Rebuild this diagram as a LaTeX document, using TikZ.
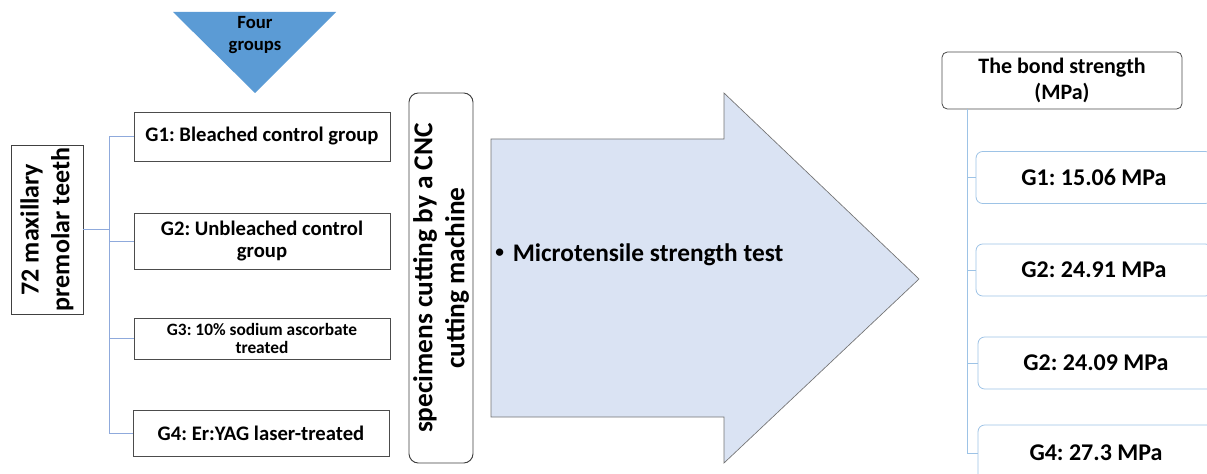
\documentclass[tikz,border=0pt]{standalone}
\usepackage{fontspec}
\setmainfont{Carlito}
\frenchspacing
\definecolor{trifill}{HTML}{5B9BD5}
\definecolor{arrowfill}{HTML}{DAE3F3}
\definecolor{linkblue}{HTML}{8FAADC}
\definecolor{boxblue}{HTML}{9DC3E6}
\begin{document}
\begin{tikzpicture}[x=0.75pt, y=-0.75pt,
  every node/.style={font=\bfseries, align=center, inner sep=0pt},
  grpbox/.style={draw=black!70, line width=0.6pt, fill=white, minimum width=192pt, font=\bfseries\fontsize{15.5}{17}\selectfont},
  sidebox/.style={draw=black!75, line width=0.7pt, fill=white, rotate=90, font=\bfseries\fontsize{19.5}{23}\selectfont},
  resbox/.style={draw=boxblue, line width=0.6pt, rounded corners=5pt, fill=white, minimum width=177pt, minimum height=39pt, font=\bfseries\fontsize{18}{20}\selectfont},
  link/.style={draw=linkblue, line width=0.7pt}]
\useasboundingbox (0,0) rectangle (1207,474);
\clip (0,0) rectangle (1207,474);

% four groups
\fill[trifill] (173,12) -- (336,12) -- (255,93) -- cycle;
\node[font=\bfseries\fontsize{14}{16.5}\selectfont] (four) at (255,35) {Four\\groups};

\node[sidebox, minimum width=126.75pt, minimum height=54pt] (teeth) at (47,229.5) {72 maxillary\\premolar teeth};

\node[grpbox, minimum height=36.75pt] (g1) at (262,136.5) {G1: Bleached control group};
\node[grpbox, minimum height=42pt] (g2) at (262,241) {G2: Unbleached control\\group};
\node[grpbox, minimum height=30.75pt, font=\bfseries\fontsize{13}{14}\selectfont] (g3) at (262,338.5) {G3: 10\% sodium ascorbate\\treated};
\node[grpbox, minimum height=34.5pt] (g4) at (261,433) {G4: Er:YAG laser-treated};

\coordinate (trunk) at (109,229.5);
\draw[link] (teeth.south) -- (trunk);
\draw[link] (trunk) |- (g1.west);
\draw[link] (trunk) |- (g2.west);
\draw[link] (trunk) |- (g3.west);
\draw[link] (trunk) |- (g4.west);

\node[sidebox, rounded corners=7pt, minimum width=277.5pt, minimum height=48pt, font=\bfseries\fontsize{20.5}{24}\selectfont] (cut) at (441,278) {specimens cutting by a CNC\\cutting machine};

% big arrow
\filldraw[fill=arrowfill, draw=black!55, line width=0.5pt]
  (491,139) -- (724,139) -- (724,93) -- (919,279) -- (724,463) -- (724,417) -- (491,417) -- cycle;
\node[anchor=west, font=\bfseries\fontsize{19}{22}\selectfont] (test) at (495,255) {\raisebox{0.15em}{\fontsize{13}{13}\selectfont\textbullet}\hspace{0.35em}Microtensile strength test};

\node[draw=black!70, line width=0.6pt, rounded corners=4pt, fill=white, minimum width=180pt, minimum height=42.75pt, font=\bfseries\fontsize{16.5}{19}\selectfont] (bond) at (1062,80.5) {The bond strength\\(MPa)};

\node[resbox] (r1) at (1094,177.5) {G1: 15.06 MPa};
\node[resbox] (r2) at (1094,270) {G2: 24.91 MPa};
\node[resbox] (r3) at (1096,363) {G2: 24.09 MPa};
\node[resbox, minimum height=42pt] (r4) at (1096,453) {G4: 27.3 MPa};

\coordinate (stem) at (967,109);
\draw[link, draw=boxblue] (stem) |- (r1.west);
\draw[link, draw=boxblue] (stem) |- (r2.west);
\draw[link, draw=boxblue] (stem) |- (r3.west);
\draw[link, draw=boxblue] (stem) |- (r4.west);
\end{tikzpicture}
\end{document}
